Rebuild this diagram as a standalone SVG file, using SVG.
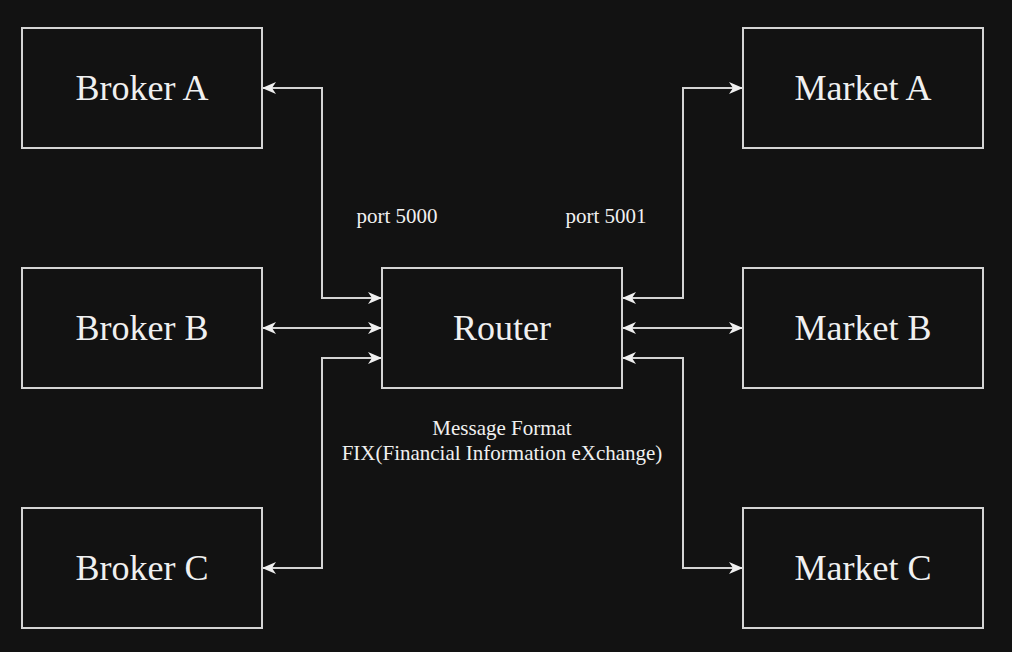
<svg xmlns="http://www.w3.org/2000/svg" width="1012" height="652" viewBox="0 0 1012 652">
<style>
.box{fill:#121212;stroke:#d4d4d4;stroke-width:2}
.lbl{font-family:"Liberation Serif","Times New Roman",serif;font-size:36px;fill:#f0f0f0;text-anchor:middle}
.sm{font-family:"Liberation Serif","Times New Roman",serif;font-size:21px;fill:#f0f0f0;text-anchor:middle}
.edge{fill:none;stroke:#d4d4d4;stroke-width:2}
</style>
<defs>
<marker id="arr" viewBox="0 0 14 12" refX="13" refY="6" markerWidth="14" markerHeight="12" markerUnits="userSpaceOnUse" orient="auto-start-reverse">
<path d="M0,0 L14,6 L0,12 L4,6 Z" fill="#f0f0f0"/>
</marker>
</defs>
<rect width="1012" height="652" fill="#121212"/>
<g id="connectors">
<path class="edge" d="M263,88 H322 V298 H381" marker-start="url(#arr)" marker-end="url(#arr)"/>
<path class="edge" d="M263,328 H381" marker-start="url(#arr)" marker-end="url(#arr)"/>
<path class="edge" d="M263,568 H322 V358 H381" marker-start="url(#arr)" marker-end="url(#arr)"/>
<path class="edge" d="M623,298 H683 V88 H742" marker-start="url(#arr)" marker-end="url(#arr)"/>
<path class="edge" d="M623,328 H742" marker-start="url(#arr)" marker-end="url(#arr)"/>
<path class="edge" d="M623,358 H683 V568 H742" marker-start="url(#arr)" marker-end="url(#arr)"/>
</g>
<g id="brokerA"><rect class="box" x="22" y="28" width="240" height="120"/><text class="lbl" x="142" y="100">Broker A</text></g>
<g id="brokerB"><rect class="box" x="22" y="268" width="240" height="120"/><text class="lbl" x="142" y="340">Broker B</text></g>
<g id="brokerC"><rect class="box" x="22" y="508" width="240" height="120"/><text class="lbl" x="142" y="580">Broker C</text></g>
<g id="router"><rect class="box" x="382" y="268" width="240" height="120"/><text class="lbl" x="502" y="340">Router</text></g>
<g id="marketA"><rect class="box" x="743" y="28" width="240" height="120"/><text class="lbl" x="863" y="100">Market A</text></g>
<g id="marketB"><rect class="box" x="743" y="268" width="240" height="120"/><text class="lbl" x="863" y="340">Market B</text></g>
<g id="marketC"><rect class="box" x="743" y="508" width="240" height="120"/><text class="lbl" x="863" y="580">Market C</text></g>
<g id="labels">
<text class="sm" x="397" y="223">port 5000</text>
<text class="sm" x="606" y="223">port 5001</text>
<text class="sm" x="502" y="435">Message Format</text>
<text class="sm" x="502" y="460">FIX(Financial Information eXchange)</text>
</g>
</svg>
